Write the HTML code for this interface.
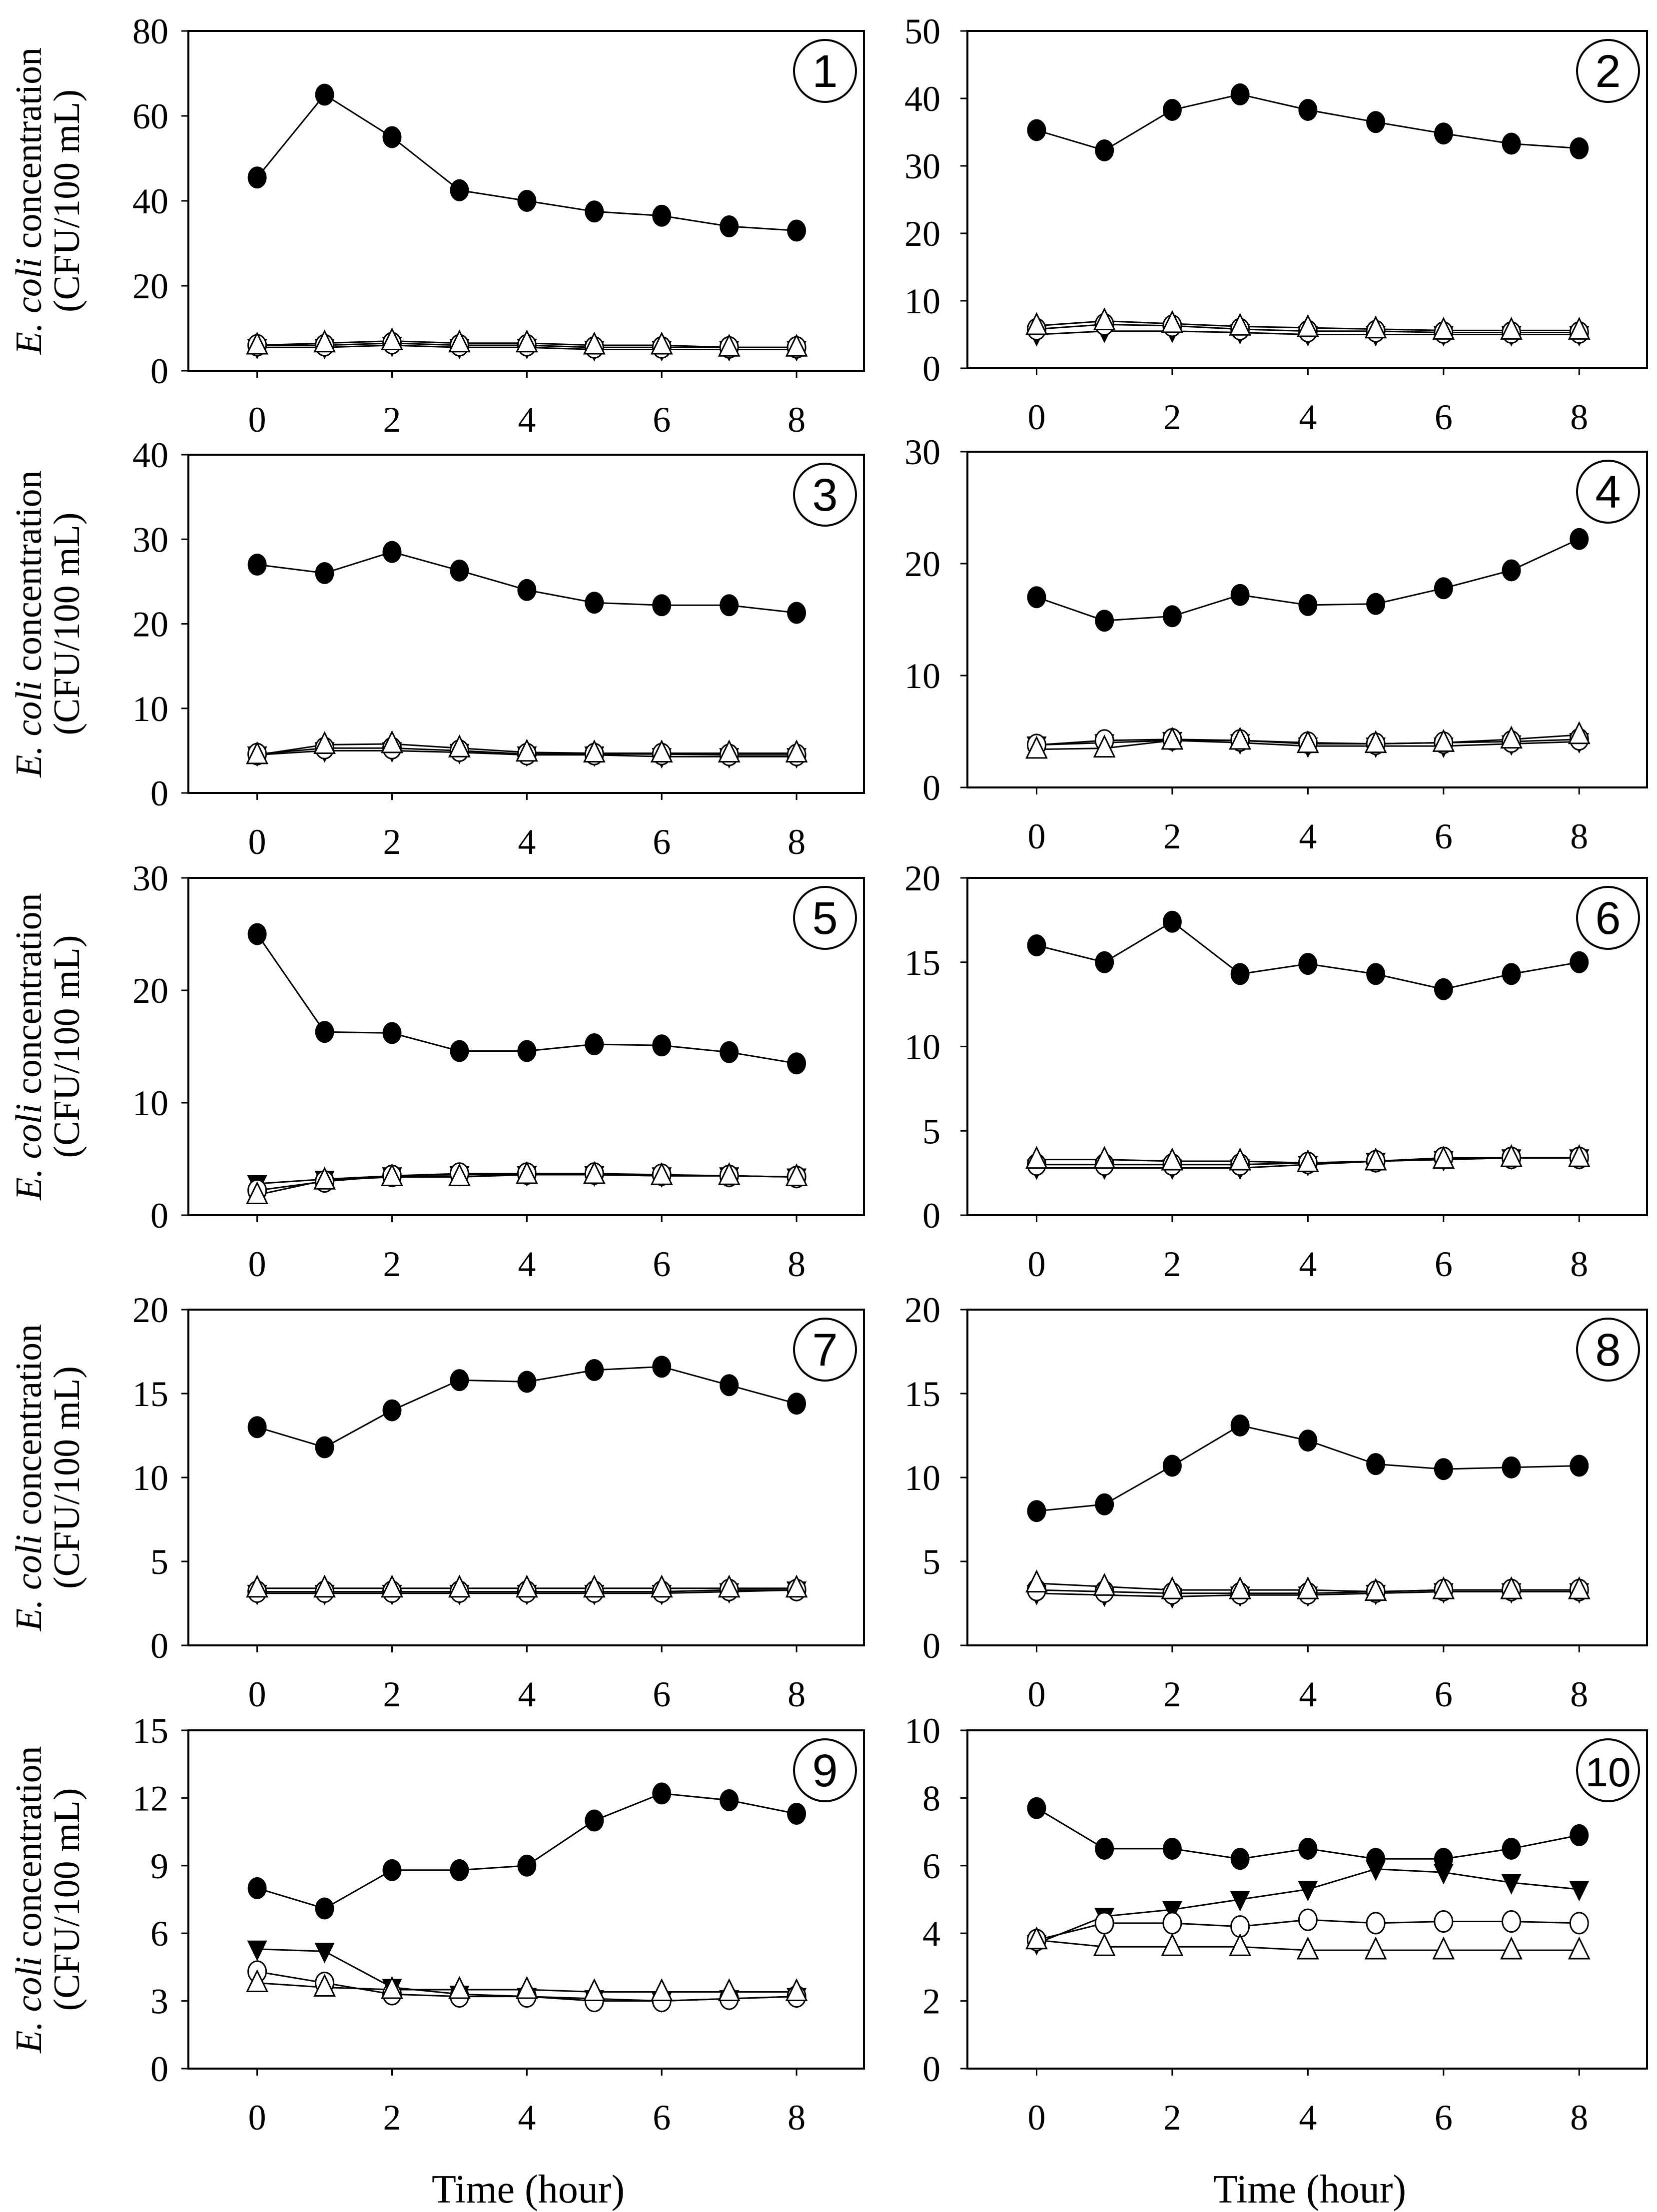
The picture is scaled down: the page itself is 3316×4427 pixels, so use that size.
<!DOCTYPE html>
<html><head><meta charset="utf-8"><style>
html,body{margin:0;padding:0;background:#fff;}
svg{display:block;font-family:"Liberation Serif",serif;}
</style></head><body>
<svg id="fig" width="3316" height="4427" viewBox="0 0 3316 4427" xmlns="http://www.w3.org/2000/svg"></svg>
<script>
const xValues=[0,1,2,3,4,5,6,7,8];
const xTicks=[0,2,4,6,8];
const yMaxes=[80,50,40,30,30,20,20,20,15,10];
const ySteps=[20,10,10,10,10,5,5,5,3,2];
const filledCircle=[
[45.5,65,55,42.5,40,37.5,36.5,34,33],
[35.3,32.3,38.3,40.6,38.3,36.5,34.8,33.3,32.6],
[27,26,28.5,26.3,24,22.5,22.2,22.2,21.3],
[17,14.9,15.3,17.2,16.3,16.4,17.8,19.4,22.2],
[25,16.3,16.2,14.6,14.6,15.2,15.1,14.5,13.5],
[16,15,17.4,14.3,14.9,14.3,13.4,14.3,15],
[13,11.8,14,15.8,15.7,16.4,16.6,15.5,14.4],
[8,8.4,10.7,13.1,12.2,10.8,10.5,10.6,10.7],
[8,7.1,8.8,8.8,9,11,12.2,11.9,11.3],
[7.7,6.5,6.5,6.2,6.5,6.2,6.2,6.5,6.9]];
const filledTriangle=[
[5.5,5.5,6,5.5,5.5,5,5,5,5],
[5,5.5,5.5,5.3,5,5,5,5,5],
[4.5,5,5,4.8,4.5,4.5,4.3,4.3,4.3],
[3.8,4,4.2,4,3.7,3.7,3.7,3.9,4.1],
[2.8,3.2,3.5,3.6,3.6,3.6,3.5,3.5,3.4],
[2.8,2.8,2.8,2.8,3,3.2,3.3,3.4,3.4],
[3.1,3.1,3.1,3.1,3.1,3.1,3.1,3.2,3.3],
[3.1,3,2.9,3,3,3.1,3.2,3.2,3.2],
[5.3,5.2,3.6,3.3,3.2,3.1,3,3.1,3.2],
[3.7,4.5,4.7,5,5.3,5.9,5.8,5.5,5.3]];
const openCircle=[
[6,6,6.5,6,6,5.5,5.5,5.5,5.5],
[5.8,6.5,6.3,5.8,5.5,5.5,5.3,5.3,5.3],
[4.6,5.3,5.3,5,4.6,4.6,4.6,4.5,4.5],
[3.8,4.2,4.3,4.2,4,3.9,4,4.1,4.3],
[2.2,3,3.5,3.7,3.7,3.7,3.6,3.5,3.4],
[3,3,3,3,3.1,3.2,3.4,3.4,3.4],
[3.2,3.2,3.2,3.2,3.2,3.2,3.2,3.3,3.3],
[3.3,3.2,3.1,3.1,3.1,3.2,3.3,3.3,3.3],
[4.3,3.8,3.3,3.2,3.2,3,3,3.1,3.2],
[3.8,4.3,4.3,4.2,4.4,4.3,4.35,4.35,4.3]];
const openTriangle=[
[6,6.5,7,6.5,6.5,6,6,5.5,5.5],
[6.3,7,6.6,6.2,6,5.8,5.6,5.6,5.6],
[4.5,5.7,5.8,5.3,4.8,4.7,4.7,4.7,4.7],
[3.4,3.5,4.2,4.2,3.9,3.9,4,4.3,4.7],
[1.8,3.1,3.4,3.4,3.6,3.6,3.5,3.5,3.4],
[3.3,3.3,3.2,3.2,3.1,3.2,3.3,3.4,3.4],
[3.4,3.4,3.4,3.4,3.4,3.4,3.4,3.4,3.4],
[3.7,3.5,3.3,3.3,3.3,3.2,3.3,3.3,3.3],
[3.8,3.6,3.5,3.5,3.5,3.4,3.4,3.4,3.4],
[3.8,3.6,3.6,3.6,3.5,3.5,3.5,3.5,3.5]];

const NS="http://www.w3.org/2000/svg";
const svg=document.getElementById('fig');
function mk(tag,attrs,parent){const e=document.createElementNS(NS,tag);for(const k in attrs)e.setAttribute(k,attrs[k]);(parent||svg).appendChild(e);return e;}
const boxes=[
[377,62,1729,742],[1936,62,3296,737],
[377,910,1729,1587],[1936,904,3296,1576],
[377,1757,1729,2432],[1936,1757,3296,2432],
[377,2621,1729,3293],[1936,2621,3296,3293],
[377,3463,1729,4140],[1936,3463,3296,4140]];
const XMIN=-1.02,XMAX=9.0;
for(let p=0;p<10;p++){
  const [l,t,r,b]=boxes[p];
  const g=mk('g',{});
  
  
  const xs=v=>l+(v-XMIN)/(XMAX-XMIN)*(r-l);
  const ys=v=>b-v/yMaxes[p]*(b-t);
  const fr=mk('rect',{x:l,y:t,width:r-l,height:b-t,fill:'none',stroke:'#000','stroke-width':4},g);
  
  
  for(let v=0;v<=yMaxes[p]+1e-9;v+=ySteps[p]){
    const y=ys(v);
    mk('line',{x1:l-14,y1:y,x2:l,y2:y,stroke:'#000','stroke-width':3},g);
    const tx=mk('text',{x:(p%2==0)?l-40:l-54,y:y+25,'text-anchor':'end','font-size':72},g);
    tx.textContent=String(v);
    
    
  }
  for(const v of xTicks){
    const x=xs(v);
    mk('line',{x1:x,y1:b,x2:x,y2:b+14,stroke:'#000','stroke-width':3},g);
    const tx=mk('text',{x:x,y:b+122,'text-anchor':'middle','font-size':72},g);
    tx.textContent=String(v);
    
    
  }
  const series=[[filledTriangle[p],'ftri'],[openCircle[p],'ocirc'],[openTriangle[p],'otri'],[filledCircle[p],'fcirc']];
  for(const [vals,kind] of series){
    const pts=vals.map((v,i)=>xs(xValues[i]).toFixed(1)+','+ys(v).toFixed(1)).join(' ');
    const pl=mk('polyline',{points:pts,fill:'none',stroke:'#000','stroke-width':3},g);
    
    
  }
  for(const [vals,kind] of series){
    vals.forEach((v,i)=>{
      const x=xs(xValues[i]),y=ys(v);let m;
      if(kind==='fcirc')m=mk('ellipse',{cx:x,cy:y,rx:19,ry:22,fill:'#000'},g);
      else if(kind==='ocirc')m=mk('ellipse',{cx:x,cy:y,rx:18,ry:21,fill:'#fff',stroke:'#000','stroke-width':3},g);
      else if(kind==='ftri')m=mk('polygon',{points:`${x-20},${y-17} ${x+20},${y-17} ${x},${y+24}`,fill:'#000'},g);
      else m=mk('polygon',{points:`${x-20},${y+17} ${x+20},${y+17} ${x},${y-24}`,fill:'#fff',stroke:'#000','stroke-width':3},g);
      
      
    });
  }
  const cx=r-78,cy=t+80;
  const c=mk('circle',{cx:cx,cy:cy,r:62,fill:'none',stroke:'#000','stroke-width':4},g);
  
  
  const nt=mk('text',{x:cx,y:cy+32,'text-anchor':'middle','font-size':p==9?82:92,'font-family':'Liberation Sans Narrow, Liberation Sans, sans-serif'},g);
  nt.textContent=String(p+1);
  
  
  if(p%2==0){
    const cyT=(t+b)/2;
    const t1=mk('text',{x:0,y:0,'text-anchor':'middle','font-size':74,transform:`translate(82,${cyT}) rotate(-90)`},g);
    t1.innerHTML='<tspan font-style="italic">E. coli</tspan> concentration';
    
    
    const t2=mk('text',{x:0,y:0,'text-anchor':'middle','font-size':74,transform:`translate(158,${cyT}) rotate(-90)`},g);
    t2.textContent='(CFU/100 mL)';
    
    
  }
}
[1057,2621].forEach(x=>{
  const t=mk('text',{x:x,y:4408,'text-anchor':'middle','font-size':80});
  t.textContent='Time (hour)';
  
  
});
</script>
</body></html>
